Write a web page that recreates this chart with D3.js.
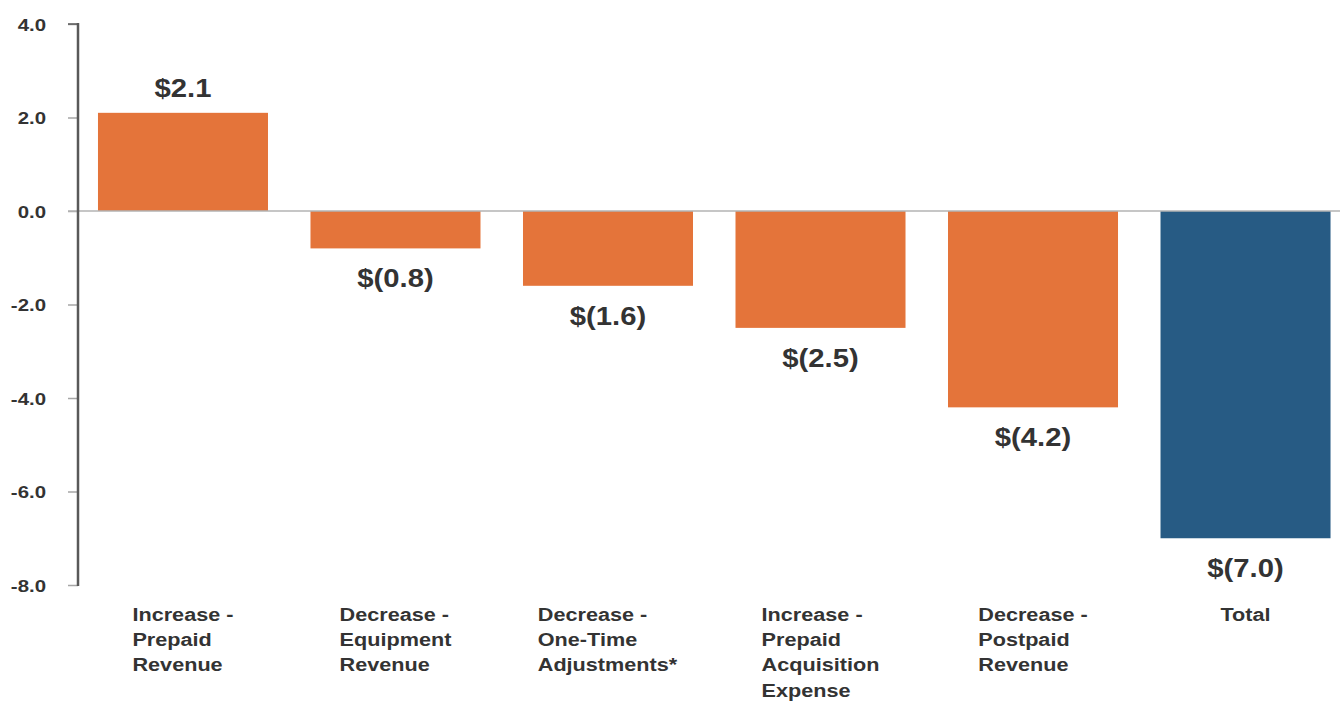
<!DOCTYPE html>
<html>
<head>
<meta charset="utf-8">
<script src="https://cdn.jsdelivr.net/npm/d3@7"></script>
<style>
  body { margin: 0; background: #fff; }
  text { font-family: "Liberation Sans", Arial, sans-serif; font-weight: bold; fill: #333; }
</style>
</head>
<body>
<div id="chart"></div>
<script>
// data
var categories = [
  ["Increase -", "Prepaid", "Revenue"],
  ["Decrease -", "Equipment", "Revenue"],
  ["Decrease -", "One-Time", "Adjustments*"],
  ["Increase -", "Prepaid", "Acquisition", "Expense"],
  ["Decrease -", "Postpaid", "Revenue"],
  ["Total"]
];
var values = [2.1, -0.8, -1.6, -2.5, -4.2, -7.0];
var isTotal = [false, false, false, false, false, true];
var yTicks = [4, 2, 0, -2, -4, -6, -8];

var W = 1340, H = 702;
var stretch = 1.17; // the glyphs in the picture are a bit wide

var svg = d3.select("#chart").append("svg")
  .attr("width", W)
  .attr("height", H);

// set the ranges
var x = d3.scaleBand()
  .domain(d3.range(values.length))
  .range([78, 1350.5])
  .paddingInner(0.2)
  .paddingOuter(0.094);
var y = d3.scaleLinear().domain([-8, 4]).range([585, 24]);

// y axis, plain hyphen for the minus sign like the picture
var yAxis = svg.append("g")
  .attr("transform", "translate(78,0)")
  .call(d3.axisLeft(y).tickValues(yTicks).tickSize(10).tickPadding(0)
    .tickFormat(function (d) { return (d < 0 ? "-" : "") + Math.abs(d).toFixed(1); }));
yAxis.select(".domain").remove();
yAxis.selectAll(".tick line").attr("stroke", "#a6a6a6").attr("stroke-width", 1.5);
yAxis.selectAll(".tick text")
  .attr("x", null)
  .attr("dy", null)
  .attr("transform", "translate(-32,6) scale(1.2,1)")
  .style("font-size", "17px")
  .style("font-family", "'Liberation Sans', Arial, sans-serif")
  .style("fill", "#333");

// bars
svg.selectAll(".bar")
  .data(values)
  .enter().append("rect")
  .attr("class", "bar")
  .attr("x", function (d, i) { return x(i); })
  .attr("width", x.bandwidth())
  .attr("y", function (d) { return y(Math.max(0, d)); })
  .attr("height", function (d) { return Math.abs(y(d) - y(0)); })
  .attr("fill", function (d, i) { return isTotal[i] ? "#275B84" : "#E4743A"; });

// zero line
svg.append("line")
  .attr("x1", 68).attr("x2", W)
  .attr("y1", y(0)).attr("y2", y(0))
  .attr("stroke", "#b3b3b3").attr("stroke-width", 1.5);

// vertical axis line
svg.append("line")
  .attr("x1", 78).attr("x2", 78)
  .attr("y1", y(4) - 1).attr("y2", y(-8) + 1)
  .attr("stroke", "#595959").attr("stroke-width", 2.5);
svg.append("line")
  .attr("x1", 68).attr("x2", 78)
  .attr("y1", y(4)).attr("y2", y(4))
  .attr("stroke", "#595959").attr("stroke-width", 1.5);

// value labels
function fmt(v) {
  return v < 0 ? "$(" + Math.abs(v).toFixed(1) + ")" : "$" + v.toFixed(1);
}
svg.selectAll(".val")
  .data(values)
  .enter().append("text")
  .attr("class", "val")
  .attr("text-anchor", "middle")
  .style("font-size", "25px")
  .attr("transform", function (d, i) {
    var cx = x(i) + x.bandwidth() / 2;
    var ty = d >= 0 ? y(d) - 16 : y(d) + 39;
    return "translate(" + cx + "," + ty + ") scale(" + stretch + ",1)";
  })
  .text(fmt);

// category labels: block centred under the bar, lines left aligned
categories.forEach(function (lines, i) {
  var cx = x(i) + x.bandwidth() / 2;
  var g = svg.append("g");
  var t = g.append("text")
    .style("font-size", "18.5px");
  lines.forEach(function (s, j) {
    t.append("tspan").attr("x", 0).attr("y", j * 25.5).text(s);
  });
  var w = t.node().getBBox().width * stretch;
  g.attr("transform", "translate(" + (cx - w / 2) + ",620.5) scale(" + stretch + ",1)");
});
</script>
</body>
</html>
